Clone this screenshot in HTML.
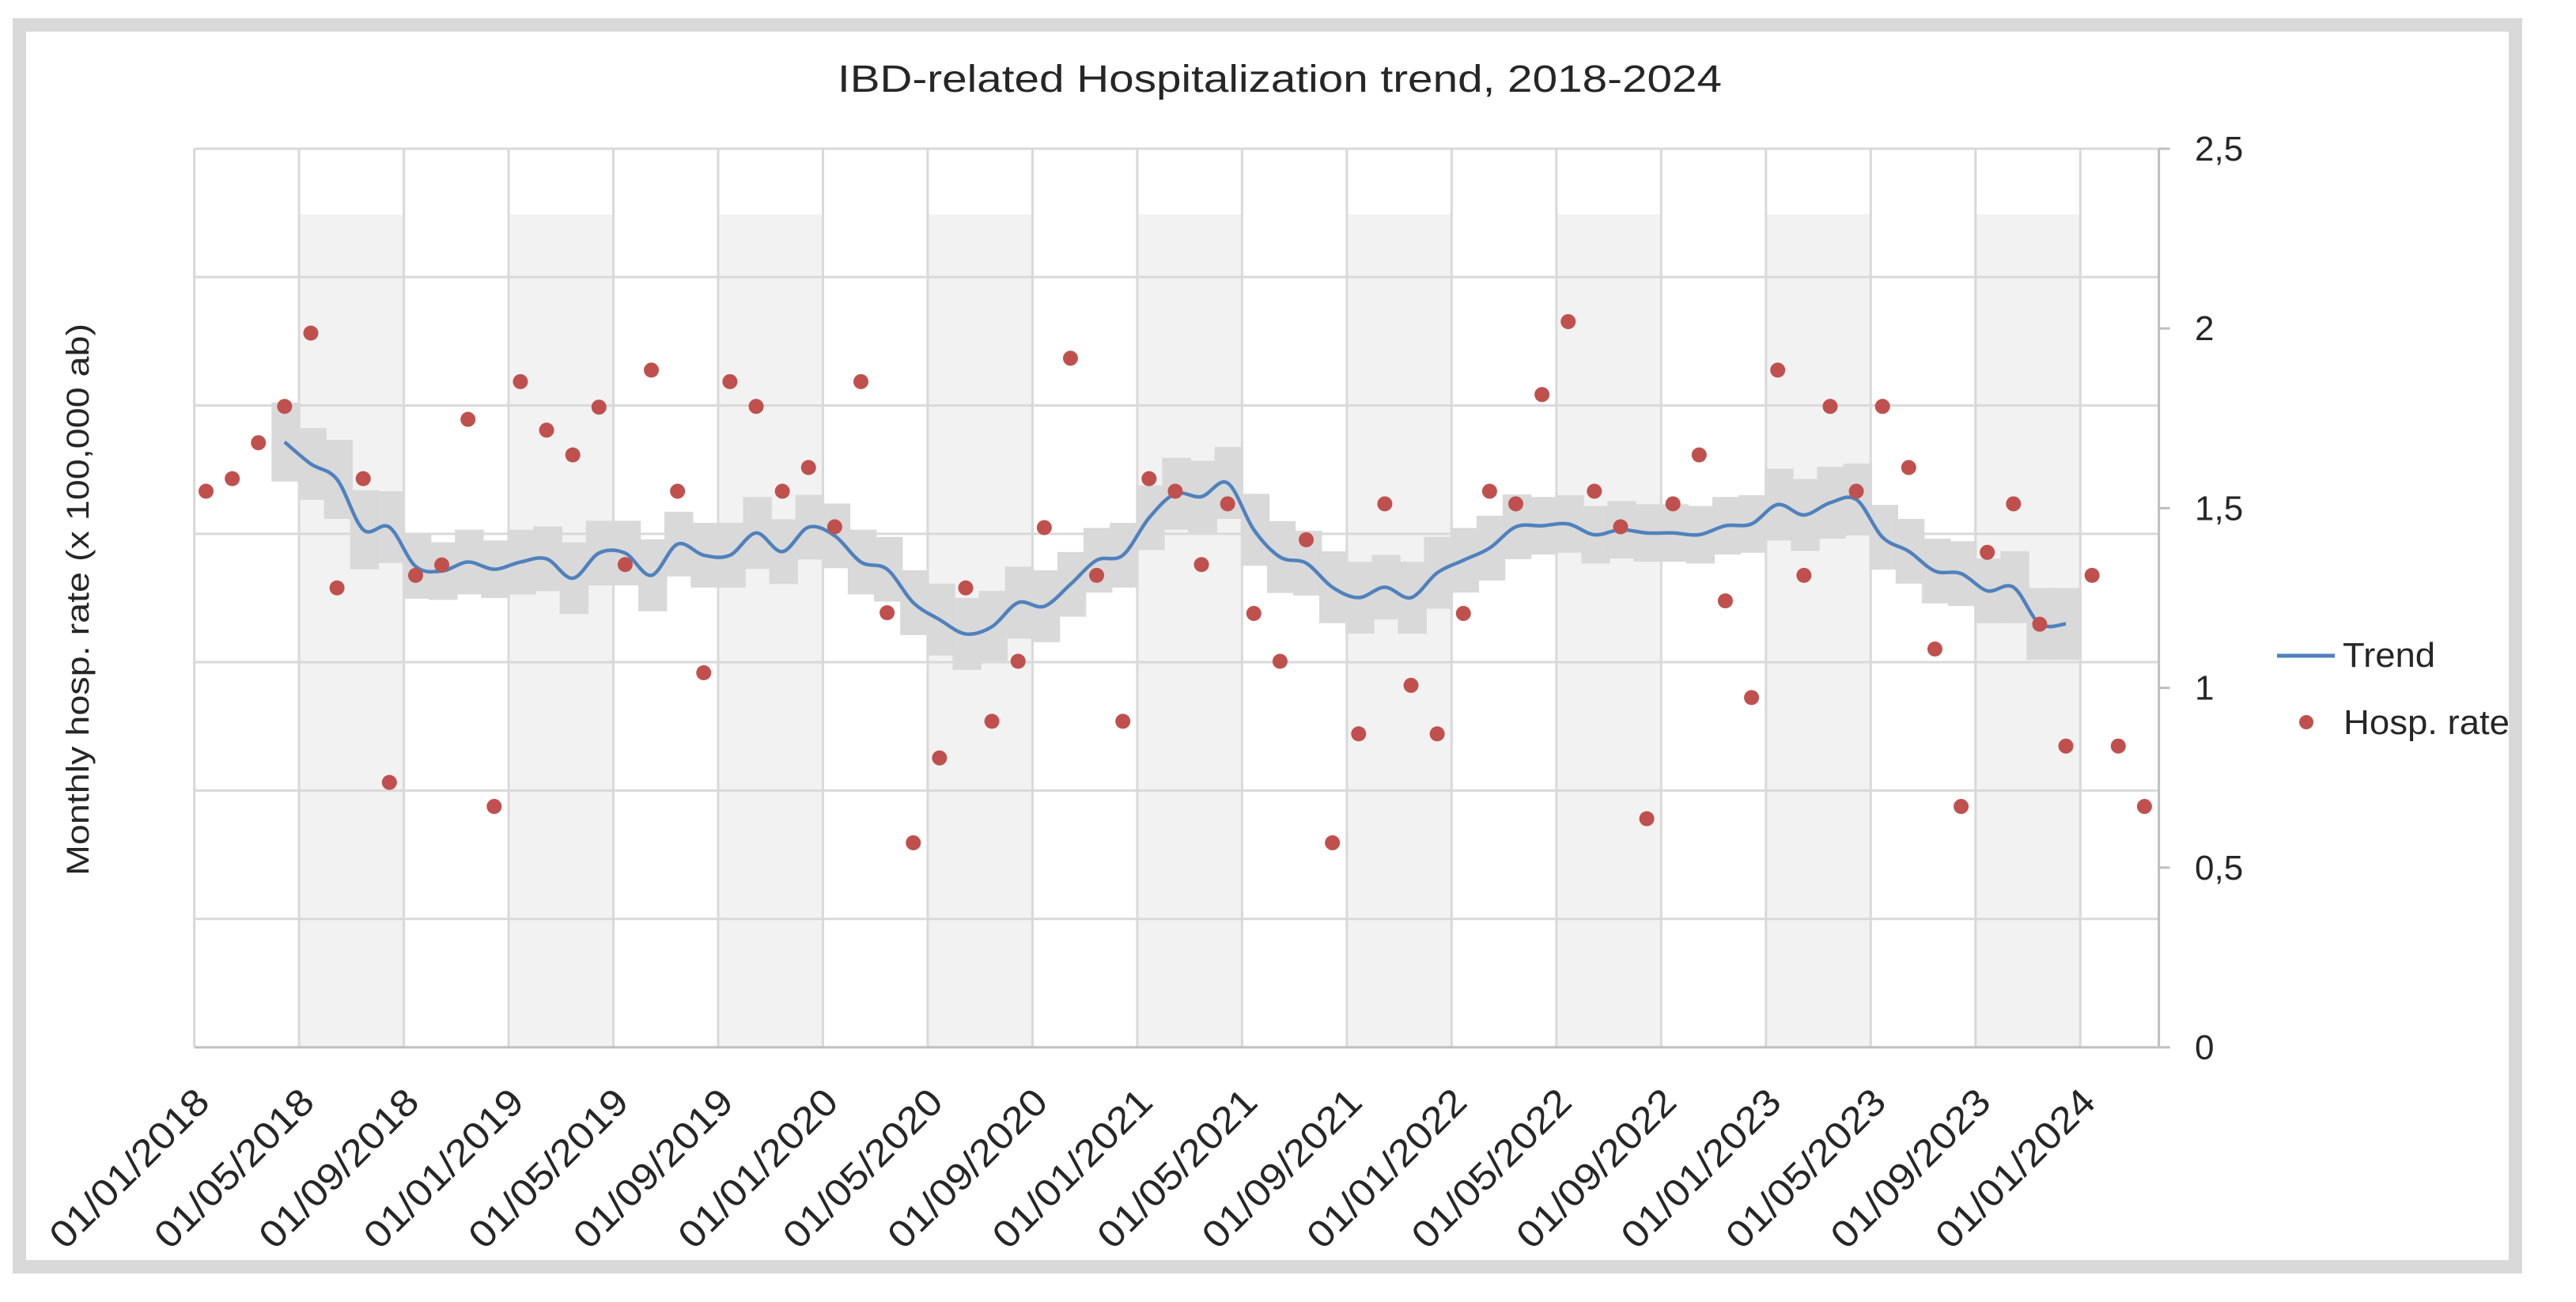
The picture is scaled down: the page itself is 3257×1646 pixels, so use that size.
<!DOCTYPE html>
<html><head><meta charset="utf-8">
<style>
html,body{margin:0;padding:0;background:#fff;}
svg{display:block;}
text{font-family:"Liberation Sans",sans-serif;fill:#262626;}
</style></head>
<body>
<svg id="chart" width="3257" height="1646" viewBox="0 0 3257 1646" xmlns="http://www.w3.org/2000/svg">
  <rect x="24.5" y="31.5" width="3156" height="1570" fill="#fff" stroke="#d9d9d9" stroke-width="17"/>
  <text x="1618" y="116" font-size="48" text-anchor="middle" textLength="1118" lengthAdjust="spacingAndGlyphs">IBD-related Hospitalization trend, 2018-2024</text>
  <g id="shade"></g>
  <g id="grid"></g>
  <g id="band"></g>
  <path id="trendPath" fill="none" stroke="#4f81bd" stroke-width="4.5"/>
  <g id="dots"></g>
  <g id="axes"></g>
  <g id="ylabels"></g>
  <g id="xlabels"></g>
  <text transform="translate(112,758) rotate(-90)" font-size="40" text-anchor="middle" textLength="698" lengthAdjust="spacingAndGlyphs">Monthly hosp. rate (x 100,000 ab)</text>
  <g>
    <g>
      <line x1="2879" y1="829" x2="2952" y2="829" stroke="#4f81bd" stroke-width="5"/>
      <text x="2962" y="843" font-size="44" textLength="117" lengthAdjust="spacingAndGlyphs">Trend</text>
    </g>
    <g>
      <circle cx="2916" cy="913" r="9" fill="#c0504d"/>
      <text x="2963" y="928" font-size="44" textLength="210" lengthAdjust="spacingAndGlyphs">Hosp. rate</text>
    </g>
  </g>
</svg>
<script>
const hospRate = [1.547,1.582,1.682,1.783,1.987,1.278,1.582,0.737,1.313,1.342,1.747,0.670,1.852,1.717,1.648,1.781,1.343,1.884,1.547,1.042,1.852,1.783,1.547,1.613,1.448,1.852,1.209,0.569,0.805,1.278,0.907,1.074,1.446,1.917,1.313,0.907,1.582,1.547,1.343,1.512,1.207,1.074,1.412,0.569,0.872,1.512,1.007,0.872,1.207,1.547,1.512,1.816,2.019,1.547,1.448,0.636,1.512,1.648,1.242,0.973,1.884,1.313,1.783,1.547,1.783,1.613,1.108,0.670,1.377,1.512,1.177,0.838,1.313,0.838,0.670];
const trendStart = 3;
const trend = [1.684,1.623,1.58,1.44,1.447,1.338,1.325,1.35,1.33,1.35,1.359,1.305,1.375,1.375,1.313,1.40,1.369,1.369,1.431,1.379,1.447,1.423,1.35,1.33,1.237,1.19,1.15,1.17,1.237,1.227,1.288,1.355,1.369,1.473,1.54,1.532,1.57,1.44,1.364,1.347,1.28,1.251,1.28,1.251,1.32,1.355,1.389,1.448,1.451,1.456,1.426,1.44,1.431,1.431,1.426,1.451,1.456,1.51,1.481,1.515,1.524,1.419,1.38,1.325,1.318,1.27,1.28,1.178,1.178];
const bandHalf = [0.11,0.1,0.11,0.11,0.1,0.09,0.08,0.09,0.08,0.09,0.09,0.1,0.09,0.09,0.1,0.09,0.09,0.09,0.1,0.09,0.09,0.09,0.09,0.09,0.09,0.1,0.1,0.1,0.1,0.1,0.09,0.09,0.09,0.09,0.1,0.1,0.1,0.1,0.1,0.09,0.1,0.1,0.09,0.1,0.1,0.09,0.09,0.09,0.08,0.08,0.08,0.08,0.08,0.08,0.08,0.08,0.08,0.1,0.1,0.1,0.1,0.09,0.09,0.09,0.09,0.09,0.1,0.1,0.1];
const yTicks = [0,0.5,1,1.5,2,2.5];
const yTickLabels = ["0","0,5","1","1,5","2","2,5"];
const xTickLabels = ["01/01/2018","01/05/2018","01/09/2018","01/01/2019","01/05/2019","01/09/2019","01/01/2020","01/05/2020","01/09/2020","01/01/2021","01/05/2021","01/09/2021","01/01/2022","01/05/2022","01/09/2022","01/01/2023","01/05/2023","01/09/2023","01/01/2024"];

const NS = "http://www.w3.org/2000/svg";
const L = 245.6, MW = 33.12, NM = 75, R = L + MW*NM, Y0 = 1324, YT = 188, YMAX = 2.5;
const xM = i => L + MW*(i+0.45);
const xEdge = m => L + MW*m;
const y = v => Y0 - (v/YMAX)*(Y0-YT);
function el(tag, attrs, parent){ const e=document.createElementNS(NS,tag); for(const k in attrs) e.setAttribute(k,attrs[k]); parent.appendChild(e); return e; }

// shading of alternating 4-month columns
const shade=document.getElementById('shade');
for(let c=1;c<xTickLabels.length;c+=2){
  const r=el('rect',{x:xEdge(c*4),y:271,width:MW*4,height:Y0-271,fill:'#f2f2f2'},shade);
  
  
}
// gridlines
const grid=document.getElementById('grid');
for(let k=0;k<=7;k++){
  const gy=YT+k*(Y0-YT)/7;
  const g=el('line',{x1:L,x2:R,y1:gy,y2:gy,stroke:'#d9d9d9','stroke-width':3},grid);
  
  
}
for(let c=0;c<xTickLabels.length;c++){
  const gx=xEdge(c*4);
  const g=el('line',{x1:gx,x2:gx,y1:YT,y2:Y0,stroke:'#d9d9d9','stroke-width':3},grid);
  
  
}
// band
const band=document.getElementById('band');
trend.forEach((v,j)=>{
  const i=trendStart+j;
  const b=el('rect',{x:xEdge(i)-MW*0.05,y:y(v+bandHalf[j]),width:MW*1.1,height:y(v-bandHalf[j])-y(v+bandHalf[j]),fill:'#d9d9d9'},band);
  
  
});
// trend path (Catmull-Rom)
const pts=trend.map((v,j)=>[xM(trendStart+j),y(v)]);
let d='M'+pts[0][0]+','+pts[0][1];
for(let k=0;k<pts.length-1;k++){
  const p0=pts[k-1]||pts[k],p1=pts[k],p2=pts[k+1],p3=pts[k+2]||p2;
  const c1=[p1[0]+(p2[0]-p0[0])/6,p1[1]+(p2[1]-p0[1])/6];
  const c2=[p2[0]-(p3[0]-p1[0])/6,p2[1]-(p3[1]-p1[1])/6];
  d+=` C${c1[0]},${c1[1]} ${c2[0]},${c2[1]} ${p2[0]},${p2[1]}`;
}
document.getElementById('trendPath').setAttribute('d',d);
// dots
const dots=document.getElementById('dots');
hospRate.forEach((v,i)=>{
  const c=el('circle',{cx:xM(i),cy:y(v),r:9.5,fill:'#c0504d'},dots);
  
  
});
// axes
const axes=document.getElementById('axes');
el('line',{x1:L,x2:R,y1:Y0,y2:Y0,stroke:'#bfbfbf','stroke-width':3},axes);
el('line',{x1:L,x2:L,y1:YT,y2:Y0,stroke:'#d9d9d9','stroke-width':3},axes);
el('line',{x1:R,x2:R,y1:YT,y2:Y0,stroke:'#bfbfbf','stroke-width':3},axes);
const yl=document.getElementById('ylabels');
yTicks.forEach((t,k)=>{
  el('line',{x1:R,x2:R+14,y1:y(t),y2:y(t),stroke:'#bfbfbf','stroke-width':3},axes);
  const tx=el('text',{x:2775,y:y(t)+15,'font-size':44},yl);
  tx.textContent=yTickLabels[k];
  
  
});
const xl=document.getElementById('xlabels');
xTickLabels.forEach((s,c)=>{
  const gx=xEdge(c*4);
  const tx=el('text',{transform:`translate(${gx+22},1396) rotate(-45)`,'font-size':48,'text-anchor':'end',textLength:262,lengthAdjust:'spacingAndGlyphs'},xl);
  tx.textContent=s;
  
  
});
</script>
</body></html>
